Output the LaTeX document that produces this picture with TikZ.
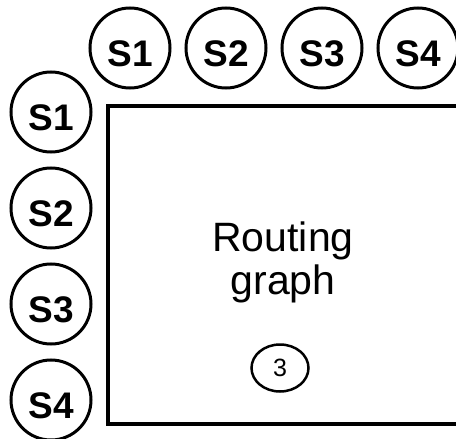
\documentclass[tikz,border=0pt]{standalone}
\usepackage{fontspec}
\setmainfont{Liberation Sans}
\usetikzlibrary{shapes.geometric}
\usetikzlibrary{positioning}

\begin{document}
\begin{tikzpicture}[x=1pt,y=-1pt,
  port/.style={circle,draw,line width=3pt,minimum size=80pt,inner sep=0pt,
    text height=36pt,text depth=0pt,font=\fontsize{37}{42}\selectfont\bfseries},
  node distance=13pt,
  graphbox/.style={rectangle,draw,line width=4pt,minimum width=354pt,minimum height=318.5pt},
  hop/.style={ellipse,draw,line width=2.5pt,minimum width=57pt,minimum height=47pt,
    inner sep=0pt,font=\fontsize{25}{28}\selectfont}]
\useasboundingbox (0,0) rectangle (456,439);
\clip (0,0) rectangle (456,439);
\node[graphbox] (rg) at (285,264.75) {};
\node[align=center,font=\fontsize{41}{43}\selectfont] (rglabel) at (283,262) {Routing\\graph};
\node[hop] (h3) at (280,368) {3};
% ports along the top edge
\node[port] (t1) at (130,48) {S1};
\node[port,right=of t1] (t2) {S2};
\node[port,right=of t2] (t3) {S3};
\node[port,right=of t3] (t4) {S4};
% ports along the left edge
\node[port] (l1) at (51,112) {S1};
\node[port,below=of l1] (l2) {S2};
\node[port,below=of l2] (l3) {S3};
\node[port,below=of l3] (l4) {S4};
\end{tikzpicture}
\end{document}
